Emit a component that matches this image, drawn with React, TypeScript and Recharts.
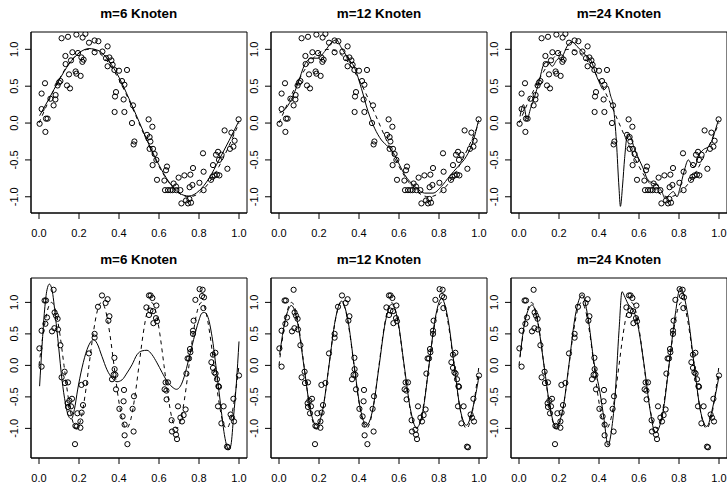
import React from 'react';
import { ComposedChart, Line, Scatter, XAxis, YAxis, ReferenceArea } from 'recharts';

const FONT = '"Liberation Sans", Arial, Helvetica, sans-serif';

// --- top row: noisy sin(2*pi*x) sample, shared by all three panels
const topX = [
  0.003, 0.013, 0.013, 0.030, 0.032, 0.035, 0.043, 0.057, 0.073, 0.082,
  0.083, 0.093, 0.100, 0.107, 0.113, 0.132, 0.133, 0.140, 0.145, 0.150,
  0.155, 0.160, 0.167, 0.183, 0.187, 0.187, 0.195, 0.208, 0.212, 0.217,
  0.218, 0.223, 0.232, 0.250, 0.278, 0.278, 0.297, 0.317, 0.335, 0.343,
  0.343, 0.352, 0.362, 0.368, 0.377, 0.378, 0.380, 0.385, 0.400, 0.415,
  0.423, 0.427, 0.427, 0.440, 0.465, 0.470, 0.473, 0.477, 0.540, 0.548,
  0.553, 0.553, 0.557, 0.567, 0.568, 0.570, 0.578, 0.587, 0.590, 0.627,
  0.630, 0.635, 0.640, 0.645, 0.657, 0.668, 0.673, 0.685, 0.687, 0.698,
  0.707, 0.712, 0.727, 0.735, 0.745, 0.752, 0.753, 0.757, 0.760, 0.767,
  0.770, 0.802, 0.820, 0.823, 0.823, 0.860, 0.867, 0.870, 0.878, 0.885,
  0.890, 0.895, 0.900, 0.902, 0.913, 0.928, 0.942, 0.955, 0.962, 0.972,
  0.978, 0.998,
];
const topY = [
  -0.01, 0.40, 0.19, 0.54, -0.12, 0.06, 0.06, 0.33, 0.24, 0.32,
  0.38, 0.51, 0.55, 0.57, 1.15, 0.91, 0.80, 0.51, 1.17, 0.66,
  0.47, 0.85, 0.96, 0.70, 0.67, 1.20, 0.95, 0.64, 0.89, 0.83,
  1.16, 0.86, 1.21, 1.09, 1.12, 0.96, 1.11, 0.97, 0.88, 1.04,
  0.77, 0.89, 0.85, 0.79, 0.72, 0.15, 0.36, 0.42, 0.71, 0.57,
  0.32, 0.52, 0.15, 0.72, 0.00, 0.24, -0.29, -0.25, -0.16, 0.05,
  -0.19, -0.35, -0.25, -0.05, -0.57, -0.35, -0.42, -0.50, -0.77, -0.78,
  -0.91, -0.64, -0.59, -0.91, -0.91, -0.91, -0.82, -0.86, -0.91, -0.74,
  -0.91, -1.09, -0.71, -1.05, -1.09, -1.03, -0.87, -0.70, -1.08, -0.84,
  -0.61, -0.81, -0.41, -0.66, -0.91, -0.77, -0.73, -0.57, -0.71, -0.43,
  -0.70, -0.39, -0.50, -0.71, -0.43, -0.10, -0.62, -0.35, -0.13, -0.32,
  -0.24, 0.05,
];

// true curve, top row (dashed)
const topTrueX = [
  0, 0.025, 0.05, 0.075, 0.1, 0.125, 0.15, 0.175, 0.2, 0.225,
  0.25, 0.275, 0.3, 0.325, 0.35, 0.375, 0.4, 0.425, 0.45, 0.475,
  0.5, 0.525, 0.55, 0.575, 0.6, 0.625, 0.65, 0.675, 0.7, 0.725,
  0.75, 0.775, 0.8, 0.825, 0.85, 0.875, 0.9, 0.925, 0.95, 0.975, 1,
];
const topTrueY = [
  0, 0.156, 0.309, 0.454, 0.588, 0.707, 0.809, 0.891, 0.951, 0.988,
  1, 0.988, 0.951, 0.891, 0.809, 0.707, 0.588, 0.454, 0.309, 0.156,
  0, -0.156, -0.309, -0.454, -0.588, -0.707, -0.809, -0.891, -0.951, -0.988,
  -1, -0.988, -0.951, -0.891, -0.809, -0.707, -0.588, -0.454, -0.309, -0.156, 0,
];

// spline fits, top row
const fitT6X = [0.003, 0.05, 0.1, 0.15, 0.2, 0.25, 0.3, 0.35, 0.4, 0.45, 0.5, 0.55, 0.6, 0.65, 0.7, 0.75, 0.8, 0.85, 0.9, 0.95, 1.0];
const fitT6Y = [0.10, 0.33, 0.58, 0.80, 0.95, 1.01, 0.98, 0.84, 0.62, 0.33, 0.02, -0.29, -0.57, -0.80, -0.95, -0.99, -0.92, -0.75, -0.50, -0.24, 0.03];

const fitT12X = [
  0.003, 0.028, 0.062, 0.095, 0.128, 0.162, 0.195, 0.228, 0.262, 0.287,
  0.312, 0.345, 0.378, 0.412, 0.445, 0.478, 0.512, 0.545, 0.578, 0.603,
  0.628, 0.653, 0.687, 0.728, 0.770, 0.812, 0.853, 0.895, 0.937, 0.970, 0.998,
];
const fitT12Y = [
  0.14, 0.18, 0.32, 0.54, 0.79, 0.88, 0.88, 0.97, 1.09, 1.13,
  1.02, 0.88, 0.75, 0.47, 0.16, -0.07, -0.23, -0.32, -0.43, -0.57,
  -0.70, -0.79, -0.88, -0.95, -0.95, -0.86, -0.72, -0.59, -0.45, -0.25, 0.04,
];

const fitT24X = [
  0.005, 0.022, 0.040, 0.058, 0.078, 0.100, 0.125, 0.145, 0.166, 0.190,
  0.216, 0.240, 0.266, 0.290, 0.316, 0.340, 0.362, 0.382, 0.400, 0.424,
  0.444, 0.457, 0.473, 0.487, 0.500, 0.507, 0.518, 0.528, 0.543, 0.560,
  0.576, 0.598, 0.620, 0.640, 0.664, 0.690, 0.714, 0.730, 0.752, 0.772,
  0.790, 0.805, 0.825, 0.847, 0.864, 0.880, 0.897, 0.922, 0.947, 0.963,
  0.980, 0.997,
];
const fitT24Y = [
  0.09, 0.25, 0.05, 0.20, 0.36, 0.56, 0.80, 0.83, 0.77, 0.86,
  0.90, 1.04, 1.10, 1.04, 0.97, 0.90, 0.84, 0.68, 0.56, 0.45,
  0.50, 0.38, 0.20, -0.25, -0.88, -1.13, -0.84, -0.48, -0.15, -0.20,
  -0.34, -0.48, -0.61, -0.75, -0.81, -0.84, -0.93, -1.02, -0.97, -0.93,
  -1.00, -0.88, -0.66, -0.50, -0.57, -0.59, -0.45, -0.36, -0.32, -0.25,
  -0.11, 0.04,
];

// --- bottom row: noisy sin(8*pi*x) sample
const botX = [
  0.002, 0.013, 0.013, 0.028, 0.032, 0.035, 0.040, 0.065, 0.073, 0.077,
  0.078, 0.085, 0.093, 0.095, 0.107, 0.113, 0.128, 0.130, 0.143, 0.145,
  0.145, 0.152, 0.155, 0.160, 0.165, 0.180, 0.182, 0.188, 0.192, 0.207,
  0.207, 0.212, 0.213, 0.220, 0.232, 0.250, 0.278, 0.278, 0.295, 0.315,
  0.333, 0.343, 0.347, 0.352, 0.365, 0.373, 0.377, 0.378, 0.382, 0.385,
  0.402, 0.418, 0.423, 0.425, 0.428, 0.428, 0.442, 0.468, 0.473, 0.475,
  0.537, 0.550, 0.550, 0.557, 0.558, 0.567, 0.570, 0.572, 0.585, 0.587,
  0.590, 0.628, 0.633, 0.637, 0.638, 0.645, 0.663, 0.665, 0.682, 0.685,
  0.690, 0.695, 0.707, 0.715, 0.723, 0.733, 0.737, 0.743, 0.750, 0.755,
  0.757, 0.770, 0.770, 0.773, 0.782, 0.803, 0.815, 0.818, 0.822, 0.825,
  0.862, 0.870, 0.870, 0.877, 0.882, 0.883, 0.890, 0.895, 0.897, 0.900,
  0.912, 0.923, 0.940, 0.945, 0.958, 0.965, 0.972, 0.975, 1.000,
];
const botY = [
  0.27, 0.55, -0.02, 1.03, 0.66, 1.03, 0.76, 0.54, 1.20, 0.59,
  0.84, 0.79, 0.74, 0.57, 0.32, -0.19, -0.10, -0.28, -0.60, -0.27,
  -0.66, -0.56, -0.76, -0.65, -0.53, -1.25, -0.96, -0.97, -0.76, -0.99,
  -0.89, -0.31, -0.75, -0.63, -0.28, 0.19, 0.50, 0.44, 0.93, 1.11,
  0.99, 1.05, 0.71, 0.78, -0.22, -0.15, 0.12, -0.06, -0.15, -0.38,
  -0.69, -0.81, -0.57, -0.39, -0.94, -1.11, -1.25, -0.69, -1.05, -0.49,
  0.92, 1.11, 0.80, 0.87, 1.11, 1.07, 0.86, 0.67, 0.75, 0.95,
  0.70, -0.38, -0.27, -0.40, -0.54, -0.27, -0.87, -1.05, -1.02, -1.10,
  -1.17, -0.65, -0.83, -0.89, -0.79, -0.70, -0.13, 0.11, 0.11, 0.26,
  0.21, 0.55, 0.50, 0.71, 1.04, 1.21, 1.10, 1.20, 0.91, 1.08,
  0.05, 0.17, -0.04, -0.11, 0.20, -0.13, -0.22, -0.65, -0.33, -0.34,
  -0.92, -0.65, -1.29, -1.30, -0.78, -0.83, -0.53, -0.89, -0.16,
];

// true curve, bottom row (dashed)
const botTrueX = [
  0, 0.0208, 0.0417, 0.0625, 0.0833, 0.1042, 0.125, 0.1458, 0.1667, 0.1875, 0.2083, 0.2292,
  0.25, 0.2708, 0.2917, 0.3125, 0.3333, 0.3542, 0.375, 0.3958, 0.4167, 0.4375, 0.4583, 0.4792,
  0.5, 0.5208, 0.5417, 0.5625, 0.5833, 0.6042, 0.625, 0.6458, 0.6667, 0.6875, 0.7083, 0.7292,
  0.75, 0.7708, 0.7917, 0.8125, 0.8333, 0.8542, 0.875, 0.8958, 0.9167, 0.9375, 0.9583, 0.9792, 1,
];
const botTrueY = [
  0, 0.5, 0.866, 1, 0.866, 0.5, 0, -0.5, -0.866, -1, -0.866, -0.5,
  0, 0.5, 0.866, 1, 0.866, 0.5, 0, -0.5, -0.866, -1, -0.866, -0.5,
  0, 0.5, 0.866, 1, 0.866, 0.5, 0, -0.5, -0.866, -1, -0.866, -0.5,
  0, 0.5, 0.866, 1, 0.866, 0.5, 0, -0.5, -0.866, -1, -0.866, -0.5, 0,
];

// spline fits, bottom row
const fitB6X = [
  0.003, 0.015, 0.028, 0.040, 0.052, 0.065, 0.082, 0.098, 0.115, 0.132,
  0.148, 0.162, 0.177, 0.193, 0.215, 0.240, 0.260, 0.273, 0.290, 0.315,
  0.340, 0.365, 0.390, 0.415, 0.440, 0.465, 0.490, 0.515, 0.540, 0.565,
  0.590, 0.615, 0.640, 0.665, 0.687, 0.707, 0.727, 0.748, 0.773, 0.798,
  0.815, 0.827, 0.843, 0.865, 0.887, 0.907, 0.927, 0.940, 0.950, 0.960,
  0.973, 0.987, 1.000,
];
const fitB6Y = [
  -0.33, 0.30, 0.88, 1.20, 1.29, 1.20, 0.78, 0.30, -0.23, -0.60,
  -0.81, -0.85, -0.70, -0.39, -0.04, 0.25, 0.38, 0.41, 0.35, 0.14,
  -0.07, -0.20, -0.26, -0.23, -0.12, 0.01, 0.17, 0.23, 0.24, 0.17,
  0.04, -0.11, -0.25, -0.34, -0.38, -0.33, -0.17, 0.09, 0.41, 0.70,
  0.83, 0.84, 0.78, 0.46, -0.07, -0.60, -1.10, -1.29, -1.34, -1.26,
  -0.81, -0.28, 0.38,
];

const fitB12X = [
  0.003, 0.0313, 0.0625, 0.0938, 0.125, 0.1563, 0.1875, 0.2188, 0.25, 0.2813,
  0.3125, 0.3438, 0.375, 0.4063, 0.4375, 0.4688, 0.5, 0.5313, 0.5625, 0.5938,
  0.625, 0.6563, 0.6875, 0.7188, 0.75, 0.7813, 0.8125, 0.8438, 0.875, 0.9063,
  0.9375, 0.9688, 1.0,
];
const fitB12Y = [
  0.17, 0.72, 0.95, 0.66, -0.02, -0.70, -0.95, -0.70, 0.0, 0.72,
  1.02, 0.73, 0.02, -0.68, -0.95, -0.70, -0.02, 0.68, 0.97, 0.72,
  0.02, -0.68, -0.99, -0.74, 0.0, 0.75, 1.06, 0.76, 0.03, -0.70,
  -0.95, -0.68, -0.17,
];

const fitB24X = [
  0.005, 0.031, 0.066, 0.094, 0.125, 0.156, 0.183, 0.219, 0.25, 0.281,
  0.316, 0.344, 0.375, 0.406, 0.425, 0.445, 0.465, 0.48, 0.50, 0.515,
  0.53, 0.55, 0.5625, 0.59, 0.625, 0.656, 0.681, 0.719, 0.75, 0.781,
  0.806, 0.844, 0.875, 0.906, 0.939, 0.969, 1.0,
];
const fitB24Y = [
  0.14, 0.72, 0.96, 0.68, 0.0, -0.68, -0.97, -0.70, 0.02, 0.78,
  1.12, 0.78, 0.05, -0.45, -0.85, -1.27, -0.97, -0.50, 0.55, 1.17,
  1.08, 0.95, 0.92, 0.70, 0.02, -0.72, -1.07, -0.76, 0.0, 0.80,
  1.23, 0.80, 0.03, -0.70, -0.97, -0.66, -0.17,
];

const titles = ['m=6 Knoten', 'm=12 Knoten', 'm=24 Knoten'];
const xTicks = [0, 0.2, 0.4, 0.6, 0.8, 1.0];
const yTicks = [-1, -0.5, 0, 0.5, 1];

type Pt = { x: number; y: number };
const zip = (xs: number[], ys: number[]): Pt[] => xs.map((x, i) => ({ x, y: ys[i] }));

// layout (pixels)
const colLeft = [30.7, 271, 511];
const rows = [
  { top: 32.3, h: 181, dom: [-1.22, 1.235], titleY: 13.5 },
  { top: 278.3, h: 180, dom: [-1.47, 1.387], titleY: 259.5 },
];
const YW = 30;
const MT = 4;
const XH = 32;
const PW = 216;

const Ring = (p: any) => (
  <circle cx={p.cx} cy={p.cy} r={2.6} fill="none" stroke="#000" strokeWidth={1} />
);

const YTick = (p: any) => {
  const x = 13;
  return (
    <text x={x} y={p.y} dy="0.35em" transform={`rotate(-90 ${x} ${p.y})`} textAnchor="middle"
      fontSize={11} fill="#000" fontFamily={FONT}>
      {p.payload.value.toFixed(1)}
    </text>
  );
};

function Panel({ col, row, pts, fit, truth }: { col: number; row: number; pts: Pt[]; fit: Pt[]; truth: Pt[] }) {
  const r = rows[row];
  const base = MT + r.h + 24;
  return (
    <>
      <div style={{
        position: 'absolute', left: colLeft[col], top: r.titleY - 9, width: PW, textAlign: 'center',
        fontSize: 13.4, fontWeight: 'bold', lineHeight: '18px', fontFamily: FONT,
      }}>
        {titles[col]}
      </div>
      <div style={{ position: 'absolute', left: colLeft[col] - YW, top: r.top - MT }}>
        <ComposedChart width={YW + PW + 6} height={MT + r.h + XH} margin={{ top: MT, right: 6, bottom: 0, left: 0 }}>
          <XAxis dataKey="x" type="number" domain={[-0.04, 1.04]} scale="linear" allowDataOverflow
            ticks={xTicks} interval={0} height={XH} tickSize={6}
            tickLine={{ stroke: '#000' }} axisLine={{ stroke: '#000' }}
            tick={(p: any) => (
              <text x={p.x} y={base} textAnchor="middle" fontSize={11} fill="#000" fontFamily={FONT}>
                {p.payload.value.toFixed(1)}
              </text>
            )} />
          <YAxis dataKey="y" type="number" domain={r.dom} scale="linear" allowDataOverflow
            ticks={yTicks} interval={0} width={YW} tickSize={6}
            tickLine={{ stroke: '#000' }} axisLine={{ stroke: '#000' }} tick={<YTick />} />
          <ReferenceArea x1={-0.04} x2={1.04} y1={r.dom[0]} y2={r.dom[1]} fill="none" stroke="#000" strokeWidth={1} />
          <Scatter data={pts} dataKey="y" shape={Ring} isAnimationActive={false} />
          <Line data={truth} dataKey="y" type="monotone" stroke="#000" strokeWidth={1}
            strokeDasharray="4 4" dot={false} activeDot={false} isAnimationActive={false} />
          <Line data={fit} dataKey="y" type="monotone" stroke="#000" strokeWidth={1}
            dot={false} activeDot={false} isAnimationActive={false} />
        </ComposedChart>
      </div>
    </>
  );
}

export default function App() {
  const topPts = zip(topX, topY);
  const botPts = zip(botX, botY);
  const topTrue = zip(topTrueX, topTrueY);
  const botTrue = zip(botTrueX, botTrueY);
  const topFits = [zip(fitT6X, fitT6Y), zip(fitT12X, fitT12Y), zip(fitT24X, fitT24Y)];
  const botFits = [zip(fitB6X, fitB6Y), zip(fitB12X, fitB12Y), zip(fitB24X, fitB24Y)];
  return (
    <div style={{ position: 'absolute', left: 0, top: 0, width: 727, height: 484, background: '#fff', fontFamily: FONT }}>
      {[0, 1, 2].map((c) => (
        <Panel key={'t' + c} col={c} row={0} pts={topPts} fit={topFits[c]} truth={topTrue} />
      ))}
      {[0, 1, 2].map((c) => (
        <Panel key={'b' + c} col={c} row={1} pts={botPts} fit={botFits[c]} truth={botTrue} />
      ))}
    </div>
  );
}
